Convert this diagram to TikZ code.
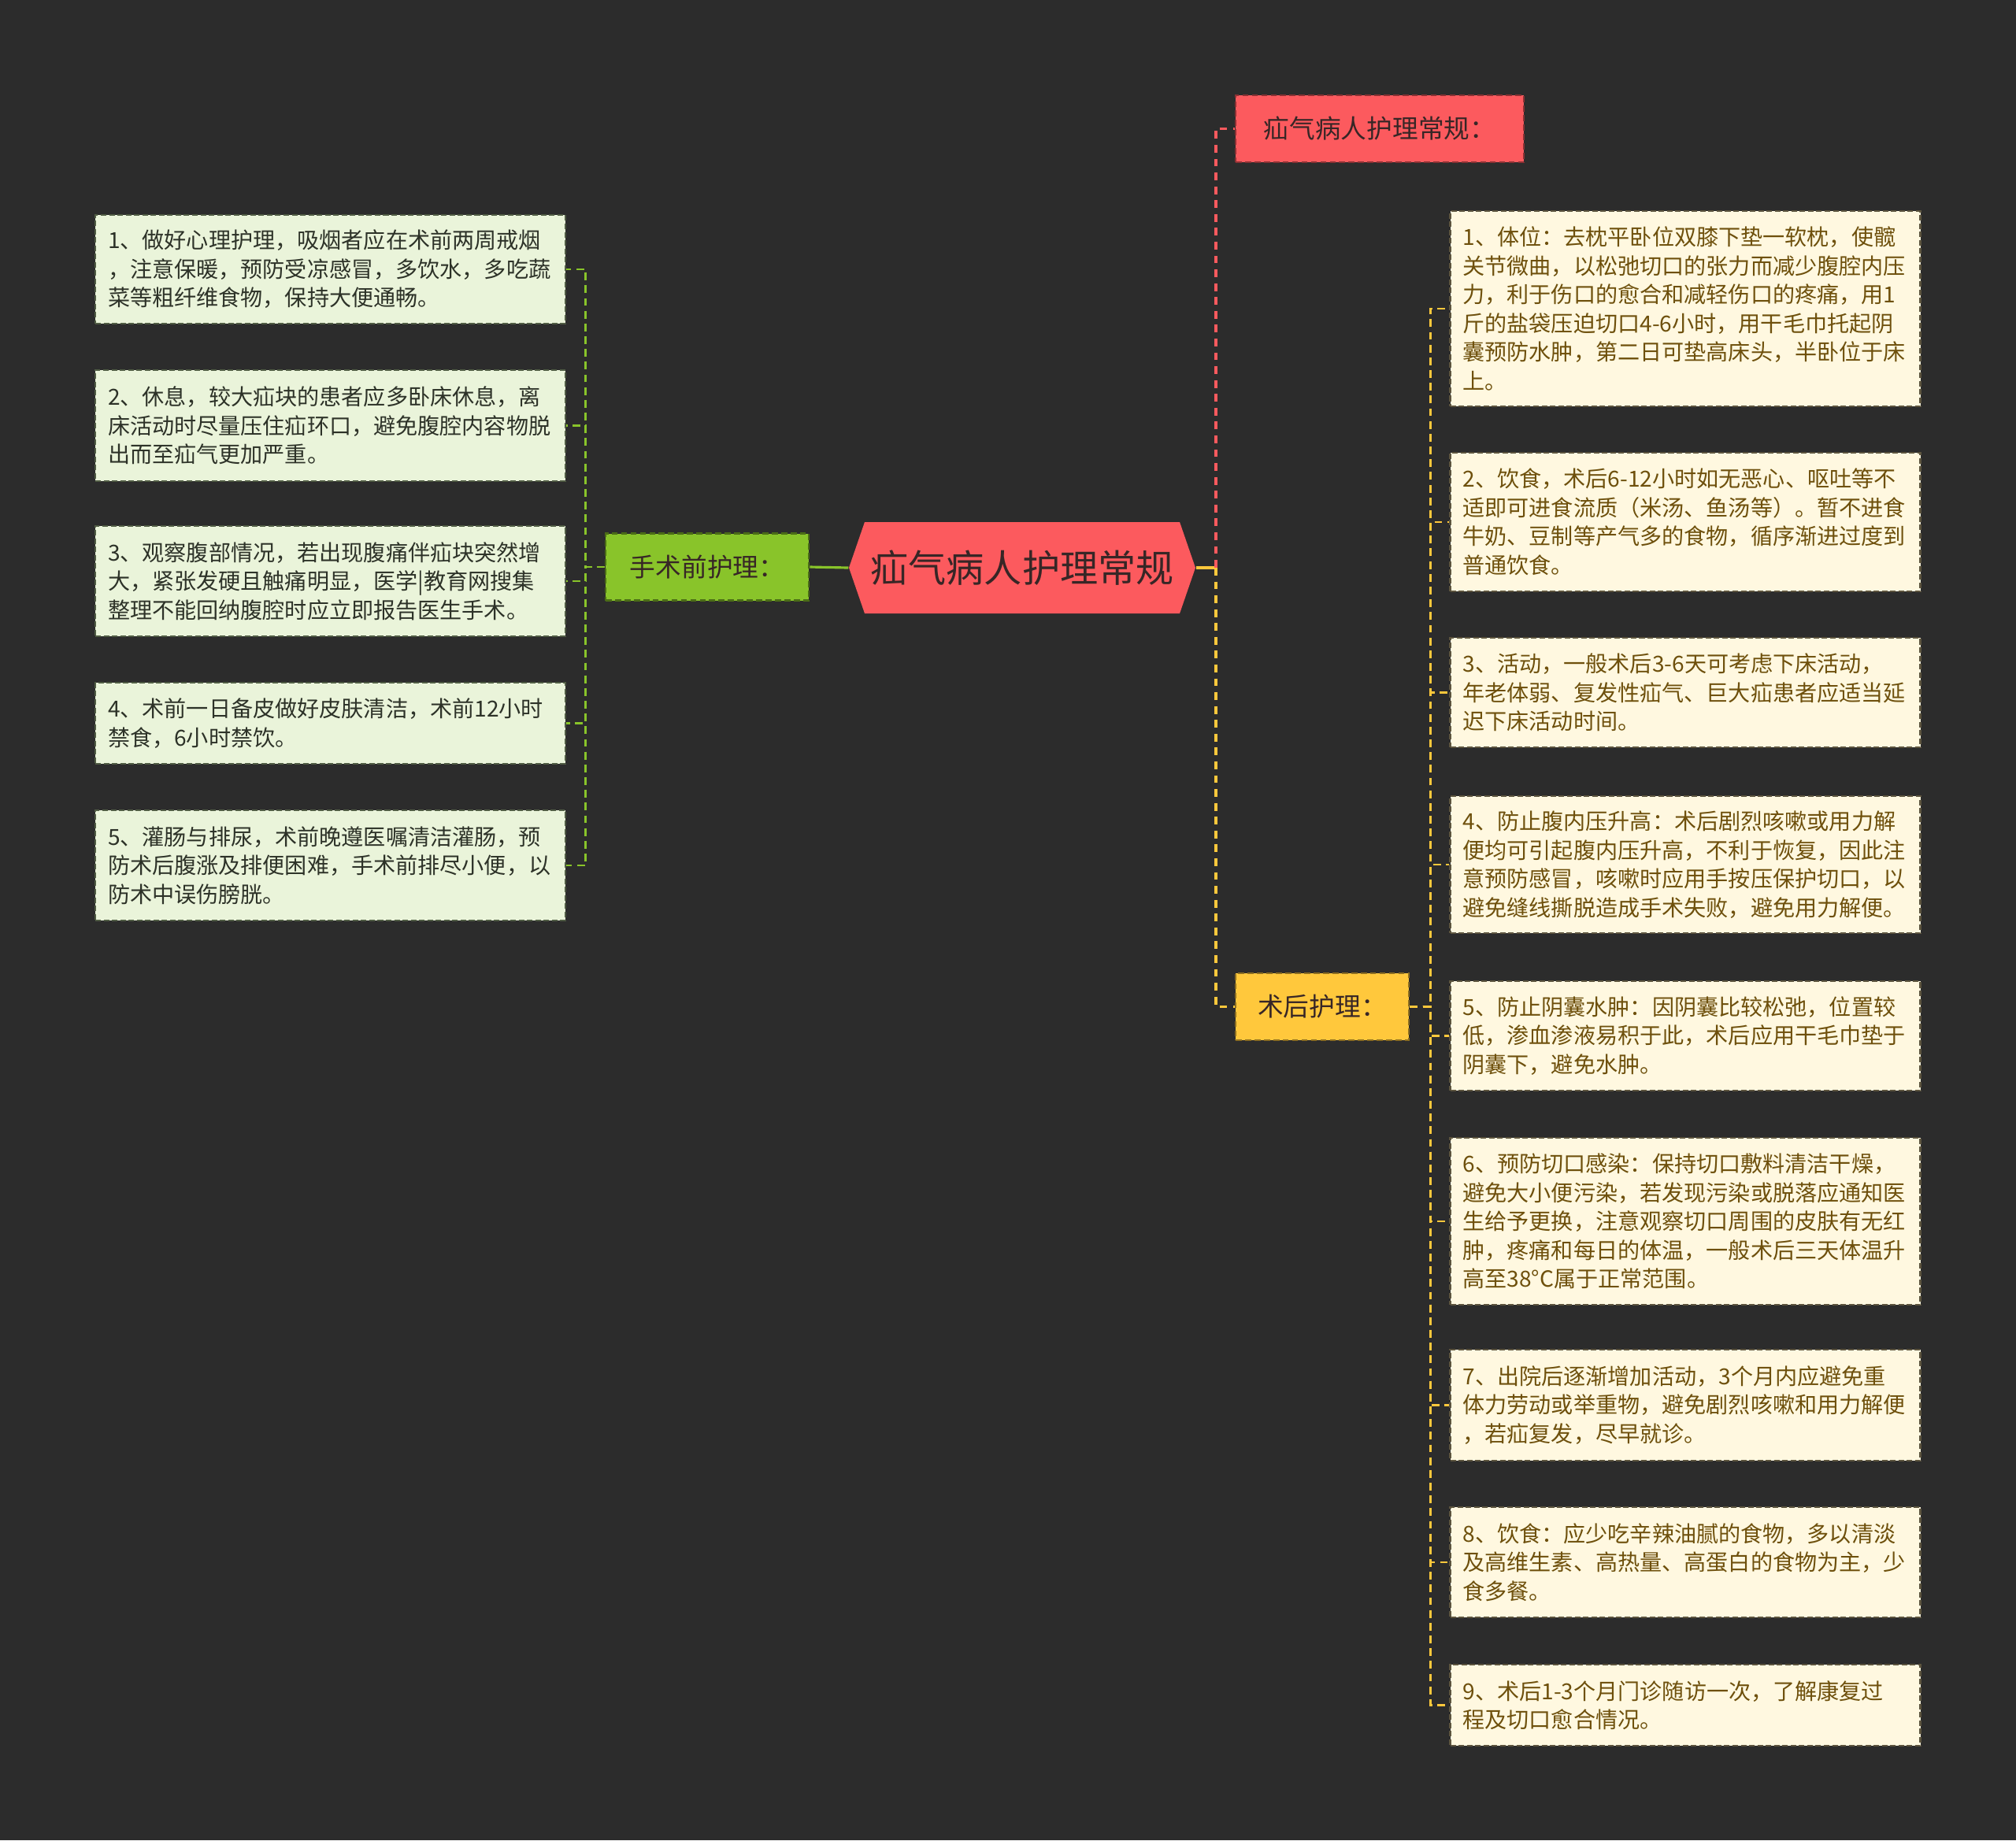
\documentclass[tikz,border=0pt]{standalone}
\usepackage{fontspec}
\setmainfont{Noto Sans CJK SC}
\usetikzlibrary{shapes.symbols, calc}
\definecolor{bgc}   {RGB}{ 44, 44, 44}
\definecolor{hred}  {RGB}{252, 90, 94}
\definecolor{hgrn}  {RGB}{137,196, 42}
\definecolor{hyel}  {RGB}{255,200, 60}
\definecolor{lgfill}{RGB}{234,244,218}
\definecolor{lyfill}{RGB}{255,248,224}
\definecolor{ytxt}  {RGB}{110, 80, 12}
\definecolor{gtxt}  {RGB}{ 45, 50, 40}
\definecolor{ink}   {RGB}{ 55, 38, 38}
\definecolor{gbord} {RGB}{ 80, 92, 68}
\definecolor{ybord} {RGB}{ 92, 84, 62}
\tikzset{
  % Red hexagon root
  Root/.style={signal,signal to=west and east,signal pointer angle=142,
               fill=hred,text=ink,minimum width=4.4cm,minimum height=1.16cm,
               font=\fontsize{13.7}{16}\selectfont,inner sep=0pt},
  % Branch box, fill colour as argument
  BR/.style={rectangle,draw=#1!55!black,fill=#1,dashed,
             dash pattern=on 2.2pt off 1.2pt,line width=0.75pt,text=ink,
             minimum height=0.85cm,font=\fontsize{9.3}{11}\selectfont},
  % Green leaf (before surgery)
  GL/.style={rectangle,draw=gbord,fill=lgfill,dashed,
             dash pattern=on 2pt off 1pt,line width=0.6pt,text=gtxt,
             text width=5.65cm,align=left,inner xsep=0.16cm,
             minimum height=#1,font=\fontsize{8}{10.4}\selectfont},
  GL/.default=1.4cm,
  % Yellow leaf (after surgery)
  YL/.style={rectangle,draw=ybord,fill=lyfill,dashed,
             dash pattern=on 2pt off 1pt,line width=0.6pt,text=ytxt,
             text width=5.65cm,align=left,inner xsep=0.16cm,
             minimum height=#1,font=\fontsize{8}{10.4}\selectfont},
  YL/.default=1.4cm,
  % Connectors -- no arrow tips
  GS/.style ={line width=0.9pt,color=hgrn},
  GLn/.style={line width=0.7pt,color=hgrn,dash pattern=on 2.8pt off 1.8pt},
  YS/.style ={line width=0.9pt,color=hyel},
  RLn/.style={line width=1.1pt,color=hred,dash pattern=on 2.8pt off 2.2pt},
  YLn/.style={line width=1.1pt,color=hyel,dash pattern=on 2.8pt off 2.2pt},
  YLs/.style={line width=0.7pt,color=hyel,dash pattern=on 2.8pt off 1.8pt},
}
\begin{document}
\begin{tikzpicture}
      \fill[bgc] (0,0) rectangle (25.6,-23.37);
      % root and branches
      \node[Root] at (12.98,-7.21) (root) {疝气病人护理常规};
      \node[BR=hgrn,minimum width=2.58cm] at (8.98,-7.20) (pre)
            {手术前护理：};
      \node[BR=hred,minimum width=3.66cm] at (17.52,-1.635) (care)
            {疝气病人护理常规：};
      \node[BR=hyel,minimum width=2.20cm] at (16.79,-12.785) (post)
            {术后护理：};
      \draw[GS] (root.west) -- (pre.east);
      \draw[YS] (root.east) -- ++(0.25,0) coordinate (rj);
      \draw[RLn] (rj) |- (care.west);
      \draw[YLn] (rj) |- (post.west);
      % before surgery
      \node[GL=1.38cm] at (4.195,-3.42) (l1)
            {1、做好心理护理，吸烟者应在术前两周戒烟\\
             ，注意保暖，预防受凉感冒，多饮水，多吃蔬\\
             菜等粗纤维食物，保持大便通畅。};
      \node[GL=1.41cm] at (4.195,-5.405) (l2)
            {2、休息，较大疝块的患者应多卧床休息，离\\
             床活动时尽量压住疝环口，避免腹腔内容物脱\\
             出而至疝气更加严重。};
      \node[GL=1.40cm] at (4.195,-7.38) (l3)
            {3、观察腹部情况，若出现腹痛伴疝块突然增\\
             大，紧张发硬且触痛明显，医学|教育网搜集\\
             整理不能回纳腹腔时应立即报告医生手术。};
      \node[GL=1.03cm] at (4.195,-9.185) (l4)
            {4、术前一日备皮做好皮肤清洁，术前12小时\\
             禁食，6小时禁饮。};
      \node[GL=1.40cm] at (4.195,-10.99) (l5)
            {5、灌肠与排尿，术前晚遵医嘱清洁灌肠，预\\
             防术后腹涨及排便困难，手术前排尽小便，以\\
             防术中误伤膀胱。};
      \draw[GLn] (pre.west) -- ++(-0.24,0) |- (l1.east);
      \draw[GLn] (pre.west) -- ++(-0.24,0) |- (l2.east);
      \draw[GLn] (pre.west) -- ++(-0.24,0) |- (l3.east);
      \draw[GLn] (pre.west) -- ++(-0.24,0) |- (l4.east);
      \draw[GLn] (pre.west) -- ++(-0.24,0) |- (l5.east);
      % after surgery
      \node[YL=2.48cm] at (21.40,-3.92) (r1)
            {1、体位：去枕平卧位双膝下垫一软枕，使髋\\
             关节微曲，以松弛切口的张力而减少腹腔内压\\
             力，利于伤口的愈合和减轻伤口的疼痛，用1\\
             斤的盐袋压迫切口4-6小时，用干毛巾托起阴\\
             囊预防水肿，第二日可垫高床头，半卧位于床\\
             上。};
      \node[YL=1.76cm] at (21.40,-6.63) (r2)
            {2、饮食，术后6-12小时如无恶心、呕吐等不\\
             适即可进食流质（米汤、鱼汤等）。暂不进食\\
             牛奶、豆制等产气多的食物，循序渐进过度到\\
             普通饮食。};
      \node[YL=1.39cm] at (21.40,-8.795) (r3)
            {3、活动，一般术后3-6天可考虑下床活动，\\
             年老体弱、复发性疝气、巨大疝患者应适当延\\
             迟下床活动时间。};
      \node[YL=1.74cm] at (21.40,-10.98) (r4)
            {4、防止腹内压升高：术后剧烈咳嗽或用力解\\
             便均可引起腹内压升高，不利于恢复，因此注\\
             意预防感冒，咳嗽时应用手按压保护切口，以\\
             避免缝线撕脱造成手术失败，避免用力解便。};
      \node[YL=1.39cm] at (21.40,-13.155) (r5)
            {5、防止阴囊水肿：因阴囊比较松弛，位置较\\
             低，渗血渗液易积于此，术后应用干毛巾垫于\\
             阴囊下，避免水肿。};
      \node[YL=2.12cm] at (21.40,-15.51) (r6)
            {6、预防切口感染：保持切口敷料清洁干燥，\\
             避免大小便污染，若发现污染或脱落应通知医\\
             生给予更换，注意观察切口周围的皮肤有无红\\
             肿，疼痛和每日的体温，一般术后三天体温升\\
             高至38°C属于正常范围。};
      \node[YL=1.41cm] at (21.40,-17.845) (r7)
            {7、出院后逐渐增加活动，3个月内应避免重\\
             体力劳动或举重物，避免剧烈咳嗽和用力解便\\
             ，若疝复发，尽早就诊。};
      \node[YL=1.40cm] at (21.40,-19.84) (r8)
            {8、饮食：应少吃辛辣油腻的食物，多以清淡\\
             及高维生素、高热量、高蛋白的食物为主，少\\
             食多餐。};
      \node[YL=1.03cm] at (21.40,-21.655) (r9)
            {9、术后1-3个月门诊随访一次，了解康复过\\
             程及切口愈合情况。};
      \draw[YLs] (post.east) -- ++(0.26,0) |- (r1.west);
      \draw[YLs] (post.east) -- ++(0.26,0) |- (r2.west);
      \draw[YLs] (post.east) -- ++(0.26,0) |- (r3.west);
      \draw[YLs] (post.east) -- ++(0.26,0) |- (r4.west);
      \draw[YLs] (post.east) -- ++(0.26,0) |- (r5.west);
      \draw[YLs] (post.east) -- ++(0.26,0) |- (r6.west);
      \draw[YLs] (post.east) -- ++(0.26,0) |- (r7.west);
      \draw[YLs] (post.east) -- ++(0.26,0) |- (r8.west);
      \draw[YLs] (post.east) -- ++(0.26,0) |- (r9.west);
\end{tikzpicture}
\end{document}
